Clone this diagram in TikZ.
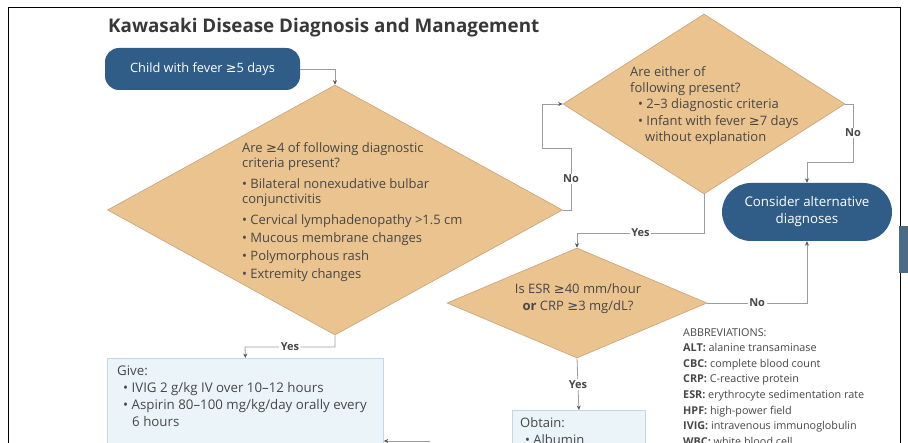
\documentclass[tikz,border=0pt]{standalone}
\usepackage{fontspec}
\setmainfont{Open Sans}
\newfontfamily\symf{DejaVu Sans}
\usetikzlibrary{shapes.geometric,arrows.meta}
\definecolor{kblue}{HTML}{2F5D87}
\definecolor{ktan}{HTML}{EAC38F}
\definecolor{ktanline}{HTML}{C4A47C}
\definecolor{klbox}{HTML}{EBF5F9}
\definecolor{klboxline}{HTML}{C2D8E3}
\definecolor{kline}{HTML}{9C9C9C}
\definecolor{karrow}{HTML}{555555}
\definecolor{ktext}{HTML}{474747}
\definecolor{ktitle}{HTML}{383838}
\definecolor{kblock}{HTML}{4C6B86}
\newcommand\gsym{{\symf ≥}}
\tikzset{
  startbox/.style={rectangle, rounded corners=14pt, fill=kblue, text=white, minimum width=195pt, minimum height=42pt, inner sep=0pt, font=\fontsize{12.8}{15}\selectfont},
  consbox/.style={rectangle, rounded corners=29pt, fill=kblue, text=white, minimum width=170pt, minimum height=58pt, inner sep=0pt, align=center, font=\fontsize{13.3}{17}\selectfont},
  dia/.style={diamond, fill=ktan, draw=ktanline, line width=0.6pt, inner sep=0pt},
  lbox/.style={rectangle, fill=klbox, draw=klboxline, line width=0.8pt, inner sep=0pt, anchor=north west},
  txt/.style={inner sep=0pt, anchor=north west, align=left, text=ktext},
  conn/.style={draw=kline, line width=0.8pt, -{Stealth[length=4.5pt,width=4pt,color=karrow]}},
  lab/.style={fill=white, inner sep=1.5pt, text=ktext, font=\bfseries\fontsize{11}{12}\selectfont},
}
\begin{document}
\begin{tikzpicture}[x=1pt,y=-1pt]
\useasboundingbox (0,0) rectangle (908,443);
\fill[white] (0,0) rectangle (908,443);
% frame
\draw[black, line width=0.9pt] (8,443) -- (8,7) -- (900,7) -- (900,443);
\fill[kblock] (899,226) rectangle (908,273);

% title
\node[inner sep=0pt, anchor=west, text=ktitle, font=\bfseries\fontsize{18.8}{22}\selectfont] (title) at (108,28) {Kawasaki Disease Diagnosis and Management};

% nodes
\node[startbox] (start) at (202.5,69) {Child with fever \gsym5 days};
\node[dia, minimum width=455pt, minimum height=250pt] (d1) at (335,210) {};
\node[dia, minimum width=282pt, minimum height=180pt] (d2) at (704,104) {};
\node[dia, minimum width=260pt, minimum height=110pt] (d3) at (577,303) {};
\node[consbox] (cons) at (807,212) {Consider alternative\\diagnoses};
\node[lbox, minimum width=276pt, minimum height=120pt] (give) at (107,358) {};
\node[lbox, minimum width=133pt, minimum height=80pt] (obtain) at (512,410) {};

% texts
\node[txt, font=\fontsize{13}{15}\selectfont] (t1) at (242,142) {Are \gsym4 of following diagnostic\\criteria present?\\[6pt]• Bilateral nonexudative bulbar\\conjunctivitis\\[6pt]• Cervical lymphadenopathy >1.5 cm\\[3pt]• Mucous membrane changes\\[3pt]• Polymorphous rash\\[3pt]• Extremity changes};
\node[txt, font=\fontsize{13}{16.3}\selectfont] (t2) at (630,66) {Are either of\\following present?\\\hspace*{8pt}• 2–3 diagnostic criteria\\\hspace*{8pt}• Infant with fever \gsym7 days\\\hspace*{15pt}without explanation};
\node[inner sep=0pt, align=center, text=ktext, font=\fontsize{13}{17}\selectfont] (t3) at (578,299) {Is ESR \gsym40 mm/hour\\\textbf{or} CRP \gsym3 mg/dL?};
\node[txt, font=\fontsize{13.3}{17}\selectfont] (t4) at (117,366) {Give:\\\hspace*{6pt}• IVIG 2 g/kg IV over 10–12 hours\\\hspace*{6pt}• Aspirin 80–100 mg/kg/day orally every\\\hspace*{15pt}6 hours};
\node[txt, font=\fontsize{13}{17}\selectfont] (t5) at (520,417) {Obtain:\\\hspace*{5pt}• Albumin};
\node[txt, font=\fontsize{10.8}{15.6}\selectfont] (abbr) at (683,328) {ABBREVIATIONS:\\\textbf{ALT:} alanine transaminase\\\textbf{CBC:} complete blood count\\\textbf{CRP:} C-reactive protein\\\textbf{ESR:} erythrocyte sedimentation rate\\\textbf{HPF:} high-power field\\\textbf{IVIG:} intravenous immunoglobulin\\\textbf{WBC:} white blood cell};

% connectors
\draw[conn] (start.east) -- (335,69) -- (d1.north);
\draw[conn] (d1.east) -- (571,210) -- node[lab]{No} (571,148) -- (542,148) -- (542,104) -- (d2.west);
\draw[conn] (d2.east) -- (853,104) -- node[lab]{No} (853,162) -- (807,162) -- (cons.north);
\draw[conn] (d2.south) -- (704,233) -- node[lab]{Yes} (577,233) -- (d3.north);
\draw[conn] (d3.east) -- node[lab]{No} (807,303) -- (cons.south);
\draw[conn] (d3.south) -- node[lab]{Yes} (obtain.north);
\draw[conn] (d1.south) -- (335,347) -- node[lab]{Yes} (245,347) -- (give.north);
\coordinate (g8) at (430,441);
\draw[conn] (g8) -- (give.east |- g8);
\end{tikzpicture}
\end{document}
